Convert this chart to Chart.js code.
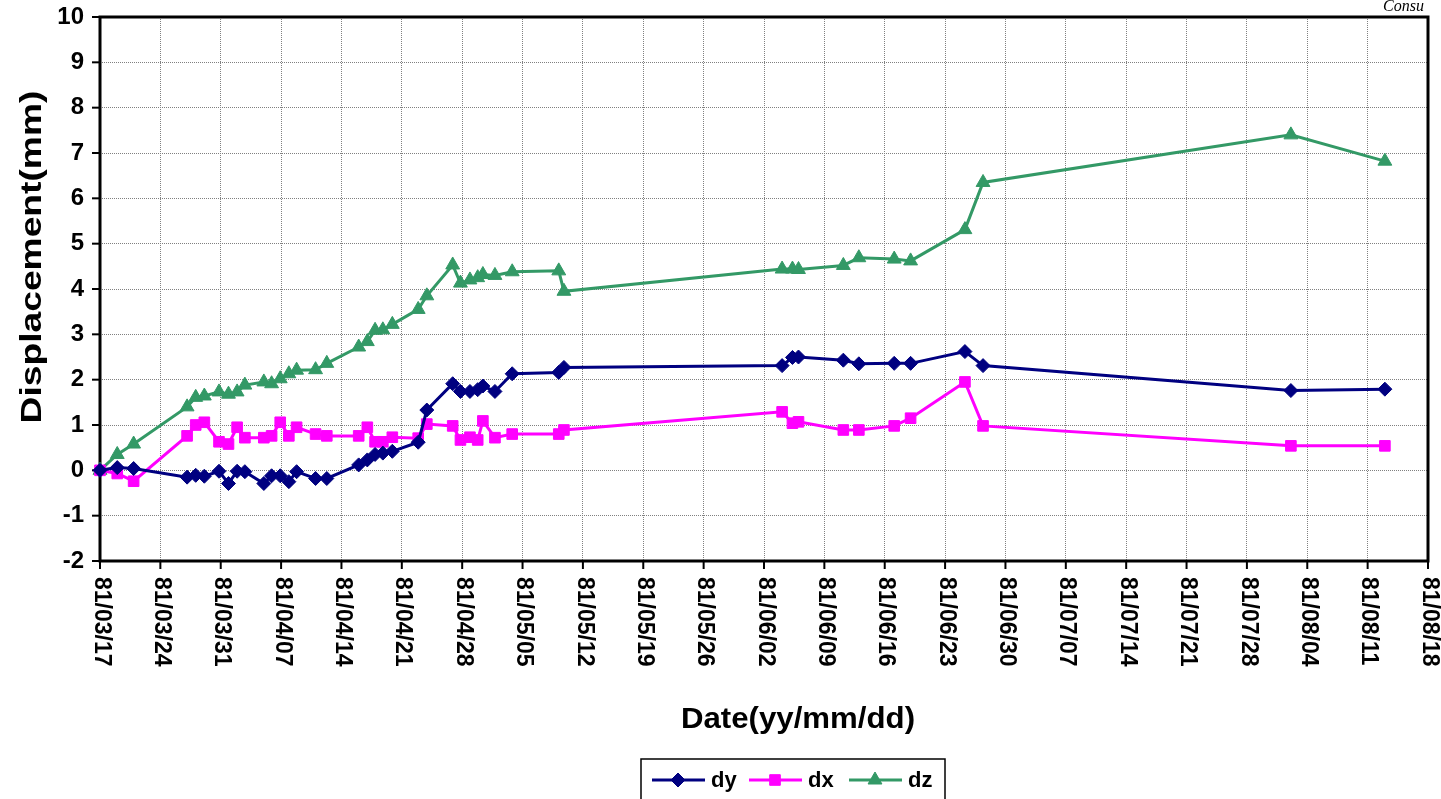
<!DOCTYPE html>
<html><head><meta charset="utf-8">
<script src="https://cdn.jsdelivr.net/npm/chart.js@4.4.0/dist/chart.umd.min.js"></script>
<style>html,body{margin:0;padding:0;background:#fff;overflow:hidden}</style>
</head><body>
<canvas id="c" width="1441" height="799"></canvas>
<script>
// days since 81/03/17
const days = [0, 2, 3.9, 10.1, 11.1, 12.1, 13.8, 14.9, 15.9, 16.8, 19.0, 19.9, 20.9, 21.9, 22.8, 25.0, 26.3, 30.0, 31.0, 31.9, 32.8, 33.9, 36.9, 37.9, 40.9, 41.8, 42.9, 43.8, 44.4, 45.8, 47.8, 53.2, 53.8, 79.1, 80.3, 81.0, 86.2, 88.0, 92.1, 94.0, 100.3, 102.4, 138.1, 149.0];
const dyVals = [0.0, 0.06, 0.04, -0.15, -0.11, -0.13, -0.02, -0.29, -0.02, -0.03, -0.29, -0.12, -0.12, -0.25, -0.03, -0.18, -0.18, 0.12, 0.23, 0.35, 0.38, 0.42, 0.62, 1.33, 1.91, 1.74, 1.74, 1.78, 1.86, 1.74, 2.13, 2.16, 2.27, 2.31, 2.49, 2.50, 2.43, 2.35, 2.36, 2.36, 2.62, 2.31, 1.76, 1.79];
const dxVals = [0.0, -0.07, -0.24, 0.76, 1.0, 1.06, 0.63, 0.58, 0.95, 0.72, 0.72, 0.76, 1.06, 0.76, 0.95, 0.80, 0.76, 0.76, 0.95, 0.63, 0.63, 0.73, 0.71, 1.02, 0.98, 0.67, 0.73, 0.67, 1.09, 0.72, 0.80, 0.80, 0.89, 1.29, 1.04, 1.07, 0.89, 0.89, 0.98, 1.15, 1.95, 0.98, 0.54, 0.54];
const dzVals = [0.0, 0.35, 0.58, 1.40, 1.61, 1.64, 1.73, 1.68, 1.73, 1.88, 1.95, 1.91, 2.02, 2.13, 2.21, 2.22, 2.36, 2.72, 2.84, 3.09, 3.10, 3.22, 3.55, 3.85, 4.53, 4.13, 4.20, 4.25, 4.32, 4.30, 4.38, 4.40, 3.95, 4.44, 4.44, 4.43, 4.52, 4.69, 4.66, 4.62, 5.31, 6.35, 7.40, 6.82];
const seriesNames = ['dy', 'dx', 'dz'];
const xTickLabels = ['81/03/17','81/03/24','81/03/31','81/04/07','81/04/14','81/04/21','81/04/28','81/05/05','81/05/12','81/05/19','81/05/26','81/06/02','81/06/09','81/06/16','81/06/23','81/06/30','81/07/07','81/07/14','81/07/21','81/07/28','81/08/04','81/08/11','81/08/18'];
const xTitle = 'Date(yy/mm/dd)';
const yTitle = 'Displacement(mm)';
const cornerText = 'Consu';

const FONT = "'Liberation Sans', Arial, sans-serif";
const colors = ['#000080', '#FF00FF', '#339966'];
const styles = ['rectRot', 'rect', 'triangle'];
const radii = [7, 7.5, 8];

function pts(vals) { return days.map((d, i) => ({x: d, y: vals[i]})); }

function drawMarker(ctx, style, x, y, r, color) {
  ctx.save();
  ctx.fillStyle = color; ctx.strokeStyle = color; ctx.lineWidth = 1;
  ctx.beginPath();
  if (style === 'rectRot') {
    ctx.moveTo(x, y - r); ctx.lineTo(x + r, y); ctx.lineTo(x, y + r); ctx.lineTo(x - r, y);
  } else if (style === 'rect') {
    const s = r * Math.SQRT1_2;
    ctx.rect(x - s, y - s, 2 * s, 2 * s);
  } else {
    ctx.moveTo(x, y - r); ctx.lineTo(x + r * 0.866, y + r * 0.5); ctx.lineTo(x - r * 0.866, y + r * 0.5);
  }
  ctx.closePath(); ctx.fill(); ctx.stroke();
  ctx.restore();
}

const decor = {
  id: 'decor',
  beforeDatasetsDraw(chart) {
    const {ctx, chartArea: a, scales: {x, y}} = chart;
    ctx.save();
    ctx.setLineDash([]);
    ctx.strokeStyle = '#000';
    ctx.lineWidth = 2;
    x.ticks.forEach(t => {
      const px = x.getPixelForValue(t.value);
      ctx.beginPath(); ctx.moveTo(px, a.bottom); ctx.lineTo(px, a.bottom + 8); ctx.stroke();
    });
    y.ticks.forEach(t => {
      const py = y.getPixelForValue(t.value);
      ctx.beginPath(); ctx.moveTo(a.left, py); ctx.lineTo(a.left - 8, py); ctx.stroke();
    });
    ctx.lineWidth = 3;
    ctx.strokeRect(a.left, a.top, a.right - a.left, a.bottom - a.top);
    ctx.restore();
  },
  afterDraw(chart) {
    const {ctx, chartArea: a, scales: {x}} = chart;
    ctx.save();
    ctx.fillStyle = '#000';
    // x tick labels, rotated clockwise
    ctx.font = 'bold 23px ' + FONT;
    ctx.textAlign = 'left'; ctx.textBaseline = 'middle';
    x.ticks.forEach((t, i) => {
      const px = x.getPixelForValue(t.value);
      ctx.save();
      ctx.translate(px + 1, a.bottom + 16);
      ctx.rotate(Math.PI / 2);
      ctx.fillText(xTickLabels[i], 0, 0);
      ctx.restore();
    });
    // x title
    ctx.save();
    ctx.translate(798, 728);
    ctx.scale(1.04, 1);
    ctx.font = 'bold 30px ' + FONT;
    ctx.textAlign = 'center'; ctx.textBaseline = 'alphabetic';
    ctx.fillText(xTitle, 0, 0);
    ctx.restore();
    // y title
    ctx.save();
    ctx.translate(41, 257);
    ctx.rotate(-Math.PI / 2);
    ctx.scale(1.24, 1);
    ctx.font = 'bold 30px ' + FONT;
    ctx.textAlign = 'center'; ctx.textBaseline = 'alphabetic';
    ctx.fillText(yTitle, 0, 0);
    ctx.restore();
    // legend
    ctx.lineWidth = 1.5; ctx.strokeStyle = '#000';
    ctx.strokeRect(641, 759, 304, 60);
    const starts = [652, 749, 849];
    ctx.font = 'bold 22px ' + FONT;
    ctx.textAlign = 'left'; ctx.textBaseline = 'middle';
    chart.data.datasets.forEach((ds, i) => {
      const lx = starts[i], ly = 780;
      ctx.strokeStyle = colors[i]; ctx.lineWidth = 3;
      ctx.beginPath(); ctx.moveTo(lx, ly); ctx.lineTo(lx + 53, ly); ctx.stroke();
      drawMarker(ctx, styles[i], lx + 26, ly, radii[i], colors[i]);
      ctx.fillStyle = '#000';
      ctx.fillText(ds.label, lx + 59, ly + 1);
    });
    // corner text
    ctx.font = 'italic 16px "Liberation Serif", "Times New Roman", serif';
    ctx.textAlign = 'left'; ctx.textBaseline = 'alphabetic';
    ctx.fillText(cornerText, 1383, 11);
    ctx.restore();
  }
};

new Chart(document.getElementById('c'), {
  type: 'line',
  data: {
    datasets: seriesNames.map((n, i) => ({
      label: n,
      data: pts([dyVals, dxVals, dzVals][i]),
      borderColor: colors[i],
      backgroundColor: colors[i],
      borderWidth: 3,
      pointStyle: styles[i],
      pointRadius: radii[i],
      pointHoverRadius: radii[i],
      pointBackgroundColor: colors[i],
      pointBorderColor: colors[i],
      pointBorderWidth: 1,
      tension: 0,
      fill: false,
      clip: false
    }))
  },
  options: {
    responsive: false,
    animation: false,
    devicePixelRatio: 1,
    layout: {padding: {left: 0, right: 13, top: 17, bottom: 0}},
    plugins: {legend: {display: false}, tooltip: {enabled: false}},
    events: [],
    scales: {
      x: {
        type: 'linear', min: 0, max: 154,
        afterBuildTicks(s) { s.ticks = xTickLabels.map((_, i) => ({value: i * 7})); },
        afterFit(s) { s.height = 238; s.paddingLeft = 0; s.paddingRight = 0; },
        ticks: {display: false},
        grid: {color: '#808080', lineWidth: 1, drawTicks: false},
        border: {display: false, dash: [1, 1]}
      },
      y: {
        min: -2, max: 10,
        afterBuildTicks(s) { const t = []; for (let v = -2; v <= 10; v++) t.push({value: v}); s.ticks = t; },
        afterFit(s) { s.width = 100; s.paddingTop = 0; s.paddingBottom = 0; },
        ticks: {color: '#000', font: {family: FONT, size: 24, weight: 'bold'}, padding: 16},
        grid: {color: '#808080', lineWidth: 1, drawTicks: false},
        border: {display: false, dash: [1, 1]}
      }
    }
  },
  plugins: [decor]
});
</script>
</body></html>
